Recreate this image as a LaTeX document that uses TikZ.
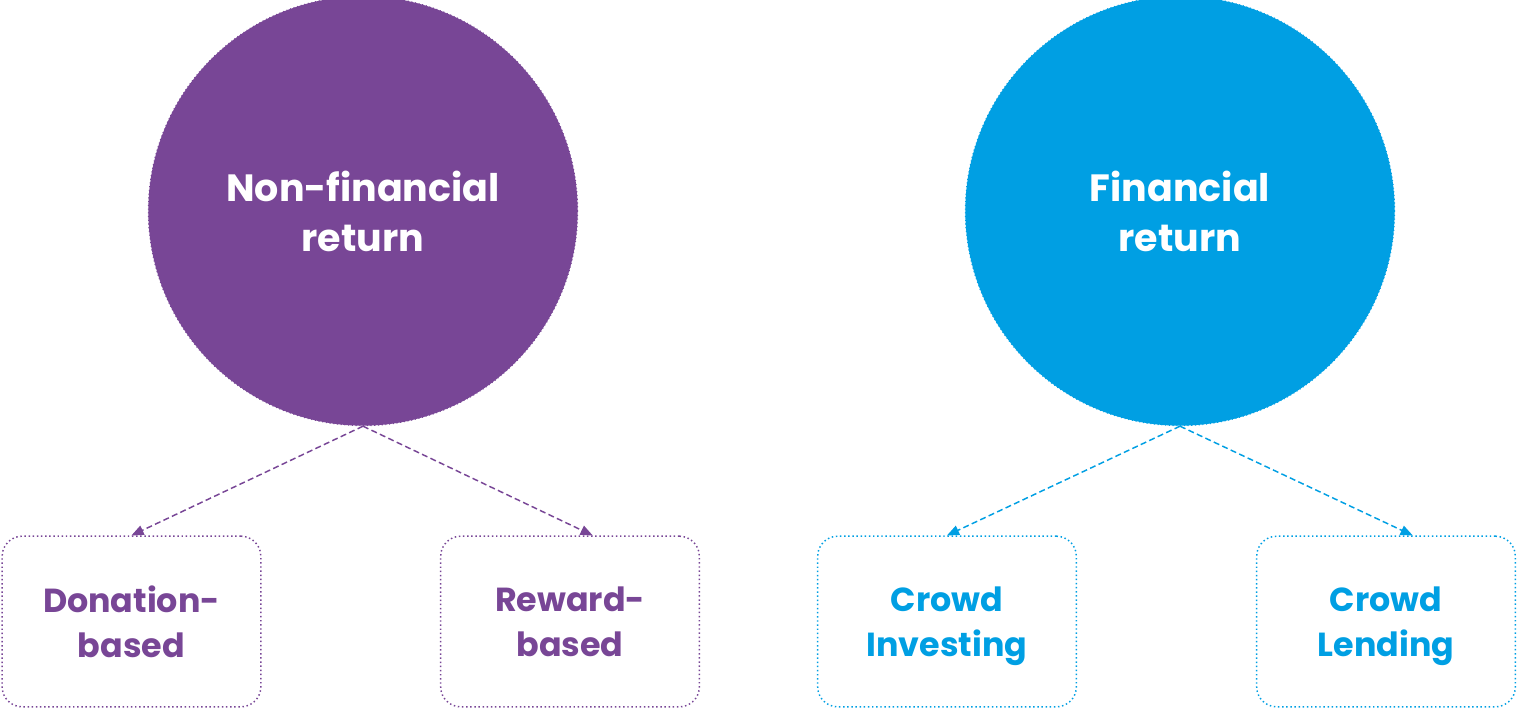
\documentclass[tikz,border=0pt]{standalone}
\usepackage{fontspec}
\setmainfont{Poppins}
\usepackage{tikz}
\usetikzlibrary{arrows,positioning}

\definecolor{purp}{HTML}{784696}
\definecolor{cyanb}{HTML}{009FE3}

\begin{document}
\begin{tikzpicture}[x=0.75pt,y=-0.75pt,->,>=triangle 45,semithick]

   \tikzstyle{bigcirc}=[circle,draw,dotted,line width=0.8pt,minimum size=322pt,text=white,align=center,
      font=\fontsize{28.5}{37.5}\selectfont\bfseries]
   \tikzstyle{typebox}=[rectangle,rounded corners=15pt,draw,dotted,line width=1.1pt,minimum width=194pt,
      minimum height=128pt,align=center,text depth=0pt,font=\fontsize{25}{33.8}\selectfont\bfseries]
   \tikzstyle{link}=[dash pattern=on 4.5pt off 2.5pt,line width=1.1pt]

   \useasboundingbox (0,0) rectangle (1517,709);

   % the two circles
   \node[bigcirc,fill=purp,draw=purp] at (363,211) (nonfin) {Non-financial\\return};
   \node[bigcirc,fill=cyanb,draw=cyanb] at (1180,211) (fin) {Financial\\return};

   % the four boxes
   \node[typebox,draw=purp,text=purp] at (131.5,621.5) (donation) {Donation-\\based};
   \node[typebox,draw=purp,text=purp] at (570,621.5) (reward) {Reward-\\based};
   \node[typebox,draw=cyanb,text=cyanb] at (947,621.5) (investing) {Crowd\\Investing};
   \node[typebox,draw=cyanb,text=cyanb] at (1386,621.5) (lending) {Crowd\\Lending};

   \draw [link,purp] (nonfin.south) -- (donation.north);
   \draw [link,purp] (nonfin.south) -- ([xshift=17pt]reward.north);

   \draw [link,cyanb] (fin.south) -- (investing.north);
   \draw [link,cyanb] (fin.south) -- ([xshift=20pt]lending.north);

\end{tikzpicture}
\end{document}
